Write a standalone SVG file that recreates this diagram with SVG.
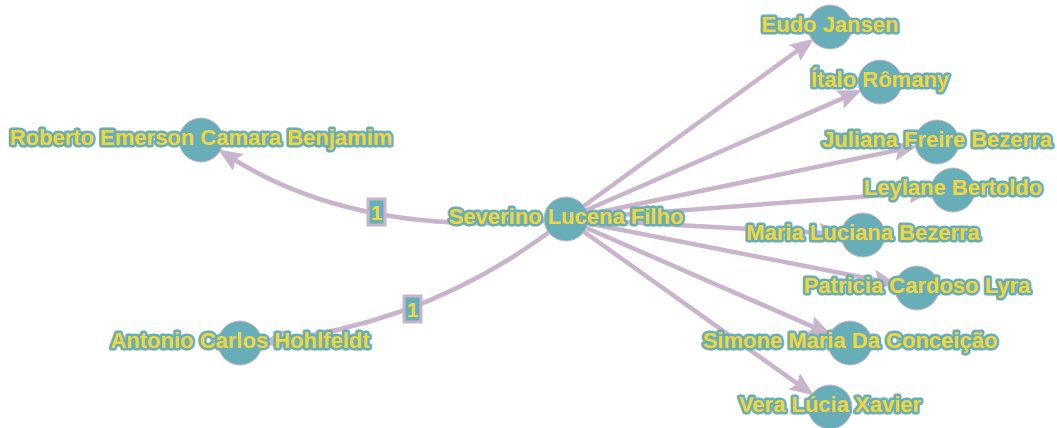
<svg xmlns="http://www.w3.org/2000/svg" width="1057" height="428" viewBox="0 0 1057 428">
<style>
.edge{fill:none;stroke:#c8b5cb;stroke-width:4.5}
.node circle{fill:#68aeb9;stroke:#c8b5cb;stroke-width:1}
.node text{font-family:"Liberation Sans",Arial,sans-serif;font-weight:bold;font-size:22px;fill:#f1d63b;stroke:#68aeb9;stroke-width:5;stroke-linejoin:round;paint-order:stroke;text-anchor:middle}
.elabel rect{fill:#68aeb9;stroke:#c8b5cb;stroke-width:3}
.elabel text{font-family:"Liberation Sans",Arial,sans-serif;font-weight:bold;font-size:21px;fill:#f1d63b;text-anchor:middle}
</style>
<defs>
<marker id="arrow" markerUnits="userSpaceOnUse" markerWidth="26" markerHeight="22" refX="10" refY="10" orient="auto" viewBox="0 0 26 22">
<path d="M0,0 L24,10 L0,20 L4,10 z" fill="#c8b5cb"/>
</marker>
</defs>
<rect width="1057" height="428" fill="#ffffff"/>
<g id="connectors">
<path class="edge" d="M566,219 Q360,240 230,157" marker-end="url(#arrow)"/>
<path class="edge" d="M566,219 Q440,320 275,341" marker-end="url(#arrow)"/>
<path class="edge" d="M566,219 L802.5,47" marker-end="url(#arrow)"/>
<path class="edge" d="M566,219 L848.9,95.6" marker-end="url(#arrow)"/>
<path class="edge" d="M566,219 L903.7,148.9" marker-end="url(#arrow)"/>
<path class="edge" d="M566,219 L919.1,192.6" marker-end="url(#arrow)"/>
<path class="edge" d="M566,219 L829,233.2" marker-end="url(#arrow)"/>
<path class="edge" d="M566,219 L883.6,281.5" marker-end="url(#arrow)"/>
<path class="edge" d="M566,219 L818.9,329.4" marker-end="url(#arrow)"/>
<path class="edge" d="M566,219 L802.3,387.2" marker-end="url(#arrow)"/>
<g class="elabel"><rect x="368" y="199" width="17" height="26"/><text x="376.5" y="220">1</text></g>
<g class="elabel"><rect x="404" y="296" width="17" height="26"/><text x="412.5" y="317">1</text></g>
</g>
<g id="n-severino" class="node"><circle cx="566" cy="219" r="22"/><text x="566" y="224">Severino Lucena Filho</text></g>
<g id="n-roberto" class="node"><circle cx="201" cy="140" r="22"/><text x="201" y="145">Roberto Emerson Camara Benjamim</text></g>
<g id="n-antonio" class="node"><circle cx="240" cy="343" r="22"/><text x="240" y="348">Antonio Carlos Hohlfeldt</text></g>
<g id="n-eudo" class="node"><circle cx="830" cy="27" r="22"/><text x="830" y="32">Eudo Jansen</text></g>
<g id="n-italo" class="node"><circle cx="880" cy="82" r="22"/><text x="880" y="87">Ítalo Rômany</text></g>
<g id="n-juliana" class="node"><circle cx="937" cy="142" r="22"/><text x="937" y="147">Juliana Freire Bezerra</text></g>
<g id="n-leylane" class="node"><circle cx="953" cy="190" r="22"/><text x="953" y="195">Leylane Bertoldo</text></g>
<g id="n-maria" class="node"><circle cx="863" cy="235" r="22"/><text x="863" y="240">Maria Luciana Bezerra</text></g>
<g id="n-patricia" class="node"><circle cx="917" cy="288" r="22"/><text x="917" y="293">Patricia Cardoso Lyra</text></g>
<g id="n-simone" class="node"><circle cx="850" cy="343" r="22"/><text x="850" y="348">Simone Maria Da Conceição</text></g>
<g id="n-vera" class="node"><circle cx="830" cy="407" r="22"/><text x="830" y="412">Vera Lúcia Xavier</text></g>
</svg>
